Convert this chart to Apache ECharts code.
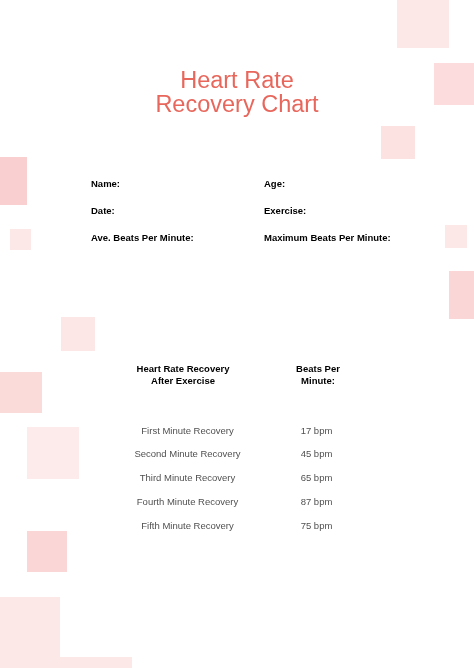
<!DOCTYPE html>
<html>
<head>
<meta charset="UTF-8">
<script src="https://cdn.jsdelivr.net/npm/echarts@6/dist/echarts.min.js"></script>
<style>html,body{margin:0;background:#fff}#main{width:474px;height:668px}</style>
</head>
<body>
<div id="main"></div>
<script>
// table data
const stages = ['First Minute Recovery', 'Second Minute Recovery', 'Third Minute Recovery', 'Fourth Minute Recovery', 'Fifth Minute Recovery'];
const bpm = [17, 45, 65, 87, 75];
const columns = ['label', 'value'];

// decorative squares [x, y, w, h, colour]
const squares = [
  [397, 0, 52, 48, '#fde8e8'], [434, 63, 40, 42, '#fcdcdc'], [381, 126, 34, 33, '#fde2e2'],
  [0, 157, 27, 48, '#f9cfcf'], [10, 229, 21, 21, '#fde8e8'], [445, 225, 22, 23, '#fde8e8'],
  [449, 271, 25, 48, '#fad6d6'], [61, 317, 34, 34, '#fde6e6'], [0, 372, 42, 41, '#fbdada'],
  [27, 427, 52, 52, '#fdeaea'], [27, 531, 40, 41, '#fad6d6'], [0, 597, 60, 71, '#fde8e8'],
  [45, 657, 87, 11, '#fde8e8']
];

const chart = echarts.init(document.getElementById('main'));
const txt = (x, y, t, opt) => ({ type: 'text', x, y, style: Object.assign({ text: t, fill: '#000', font: 'bold 9.5px "Liberation Sans", Arial' }, opt || {}) });
const graphic = squares.map(s => ({ type: 'rect', shape: { x: s[0], y: s[1], width: s[2], height: s[3] }, style: { fill: s[4] }, z: 0 }));
graphic.push(
  txt(237, 82, 'Heart Rate', { fill: '#e8675c', font: '23.5px "Liberation Sans", Arial', align: 'center', verticalAlign: 'middle' }),
  txt(237, 106, 'Recovery Chart', { fill: '#e8675c', font: '23.5px "Liberation Sans", Arial', align: 'center', verticalAlign: 'middle' }),
  txt(91, 184, 'Name:', { verticalAlign: 'middle' }),
  txt(264, 184, 'Age:', { verticalAlign: 'middle' }),
  txt(91, 211, 'Date:', { verticalAlign: 'middle' }),
  txt(264, 211, 'Exercise:', { verticalAlign: 'middle' }),
  txt(91, 238, 'Ave. Beats Per Minute:', { verticalAlign: 'middle' }),
  txt(264, 238, 'Maximum Beats Per Minute:', { verticalAlign: 'middle' }),
  txt(183, 375, 'Heart Rate Recovery\nAfter Exercise', { align: 'center', verticalAlign: 'middle', lineHeight: 12 }),
  txt(318, 375, 'Beats Per\nMinute:', { align: 'center', verticalAlign: 'middle', lineHeight: 12 })
);

const labelData = stages.map((s, i) => ({ value: ['label', i], label: { formatter: s } }));
const valueData = bpm.map((v, i) => ({ value: ['value', i], label: { formatter: v + ' bpm' } }));

chart.setOption({
  animation: false,
  graphic,
  grid: { left: 123, width: 258, top: 419, height: 119 },
  xAxis: { type: 'category', data: columns, show: false },
  yAxis: { type: 'category', data: stages.map((_, i) => i), inverse: true, show: false },
  series: [{
    type: 'scatter', symbolSize: 0, z: 5,
    label: { show: true, position: 'inside', color: '#222', fontSize: 9.5, fontFamily: 'Liberation Sans, Arial' },
    data: labelData.concat(valueData)
  }]
});
</script>
</body>
</html>
